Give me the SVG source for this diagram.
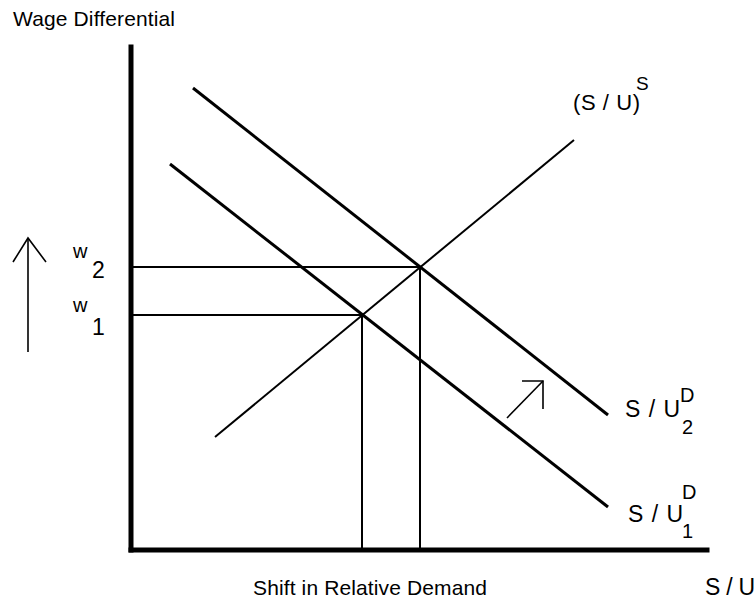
<svg xmlns="http://www.w3.org/2000/svg" width="756" height="602" viewBox="0 0 756 602">
<style>
.t{font-family:"Liberation Sans",Arial,sans-serif;fill:#000}
.ax{stroke:#000;stroke-width:5;fill:none;stroke-linecap:square}
.d{stroke:#000;stroke-width:3;fill:none}
.s{stroke:#000;stroke-width:2;fill:none}
.g{stroke:#000;stroke-width:2;fill:none}
.ar{stroke:#000;stroke-width:1.6;fill:none}
</style>
<rect width="756" height="602" fill="#fff"/>
<g id="axes">
<line class="ax" x1="131" y1="47" x2="131" y2="550"/>
<line class="ax" x1="131" y1="550" x2="707" y2="550"/>
</g>
<g id="connectors">
<line class="g" x1="131" y1="267" x2="420" y2="267"/>
<line class="g" x1="131" y1="315" x2="362" y2="315"/>
<line class="g" x1="420" y1="267" x2="420" y2="550"/>
<line class="g" x1="362" y1="315" x2="362" y2="550"/>
</g>
<g id="supply">
<line class="s" x1="215" y1="437" x2="574" y2="140"/>
<text class="t" x="573" y="110" font-size="22" textLength="67">(S / U)</text>
<text class="t" x="636" y="90" font-size="19">S</text>
</g>
<g id="demand2">
<line class="d" x1="193" y1="88" x2="608" y2="415"/>
<text class="t" x="625" y="417" font-size="23" textLength="55">S / U</text>
<text class="t" x="680" y="402" font-size="20">D</text>
<text class="t" x="682" y="434" font-size="20">2</text>
</g>
<g id="demand1">
<line class="d" x1="170" y1="164" x2="608" y2="507"/>
<text class="t" x="628" y="522" font-size="23" textLength="55">S / U</text>
<text class="t" x="682" y="499" font-size="20">D</text>
<text class="t" x="682" y="538" font-size="20">1</text>
</g>
<g id="shift-arrow">
<line class="ar" x1="507" y1="418" x2="543" y2="381"/>
<polyline class="ar" points="522,381 543,381 543,409"/>
</g>
<g id="up-arrow">
<line class="ar" x1="28" y1="238" x2="28" y2="352"/>
<polyline class="ar" points="13,262 28,238 46,262"/>
</g>
<g id="labels">
<text class="t" x="13" y="26" font-size="21" textLength="162">Wage Differential</text>
<text class="t" x="73" y="258" font-size="20">w</text>
<text class="t" x="92" y="278" font-size="23">2</text>
<text class="t" x="73" y="312" font-size="20">w</text>
<text class="t" x="92" y="335" font-size="23">1</text>
<text class="t" x="253" y="595" font-size="21" textLength="234">Shift in Relative Demand</text>
<text class="t" x="705" y="595" font-size="23" textLength="50">S / U</text>
</g>
</svg>
